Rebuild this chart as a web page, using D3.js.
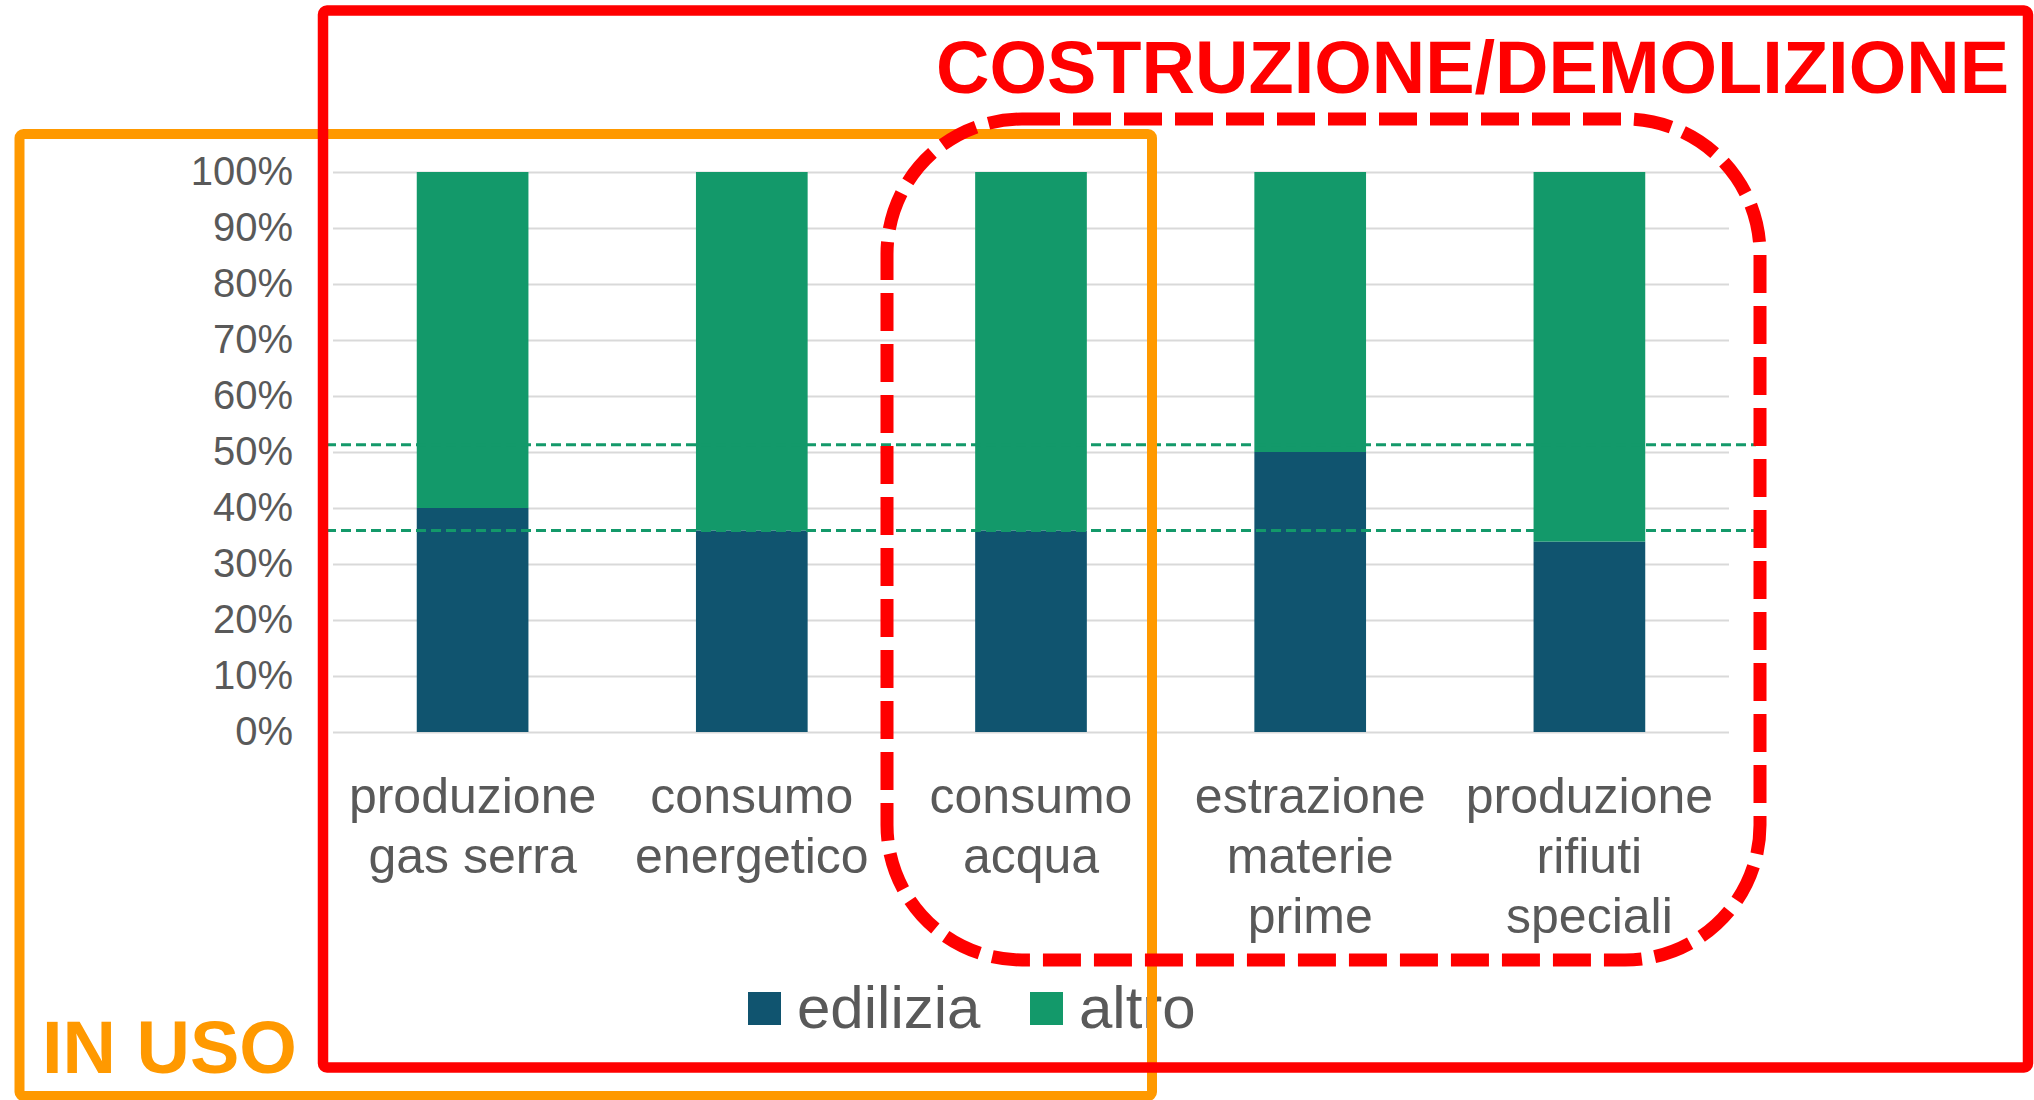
<!DOCTYPE html>
<html>
<head>
<meta charset="utf-8">
<script src="https://d3js.org/d3.v7.min.js"></script>
<style>
  * { margin: 0; padding: 0; }
  html, body { width: 2034px; height: 1100px; background: #fff; overflow: hidden; }
  svg { display: block; font-family: 'Liberation Sans', Arial, sans-serif; }
</style>
</head>
<body>
<svg id="chart" width="2034" height="1100"></svg>
<script>
// data (percent of total)
const categories = ['produzione\ngas serra', 'consumo\nenergetico', 'consumo\nacqua', 'estrazione\nmaterie\nprime', 'produzione\nrifiuti\nspeciali'];
const seriesNames = ['edilizia', 'altro'];
const edilizia = [40, 36, 36, 50, 34];
const altro = [60, 64, 64, 50, 66];
const refLines = [51.3, 36];
const yTicks = [0, 10, 20, 30, 40, 50, 60, 70, 80, 90, 100];

const colors = { edilizia: '#10546F', altro: '#13996A' };
const textGray = '#595959';

const svg = d3.select('#chart');

const x = d3.scaleBand().domain(categories).range([333, 1729]).paddingInner(0.6).paddingOuter(0.3);
const y = d3.scaleLinear().domain([0, 100]).range([732, 172]);

// gridlines + y labels
const yAxis = svg.append('g')
  .attr('transform', 'translate(333,0)')
  .call(d3.axisLeft(y).tickValues(yTicks).tickSize(-1396).tickFormat(d => d + '%').tickPadding(40));
yAxis.select('.domain').remove();
yAxis.selectAll('.tick line').attr('stroke', '#d9d9d9').attr('stroke-width', 2);
yAxis.selectAll('.tick text')
  .attr('fill', textGray)
  .attr('font-size', 40)
  .attr('font-family', "'Liberation Sans', Arial, sans-serif");

// stacked bars
const rows = categories.map((c, i) => ({ cat: c, edilizia: edilizia[i], altro: altro[i] }));
const stack = d3.stack().keys(seriesNames)(rows);

svg.append('g').selectAll('g')
  .data(stack)
  .join('g')
  .attr('fill', d => colors[d.key])
  .selectAll('rect')
  .data(d => d)
  .join('rect')
  .attr('x', d => x(d.data.cat))
  .attr('width', x.bandwidth())
  .attr('y', d => y(d[1]))
  .attr('height', d => y(d[0]) - y(d[1]));

// dashed reference lines
svg.append('g').selectAll('line')
  .data(refLines)
  .join('line')
  .attr('x1', 326)
  .attr('x2', 1756)
  .attr('y1', d => y(d))
  .attr('y2', d => y(d))
  .attr('stroke', colors.altro)
  .attr('stroke-width', 3)
  .attr('stroke-dasharray', '10,5');

// category labels
const labels = svg.append('g').selectAll('text')
  .data(categories)
  .join('text')
  .attr('x', d => x(d) + x.bandwidth() / 2)
  .attr('y', 813)
  .attr('text-anchor', 'middle')
  .attr('font-size', 50)
  .attr('fill', textGray);
labels.selectAll('tspan')
  .data(d => d.split('\n'))
  .join('tspan')
  .attr('x', function () { return this.parentNode.getAttribute('x'); })
  .attr('dy', (d, i) => i === 0 ? 0 : 60)
  .text(d => d);

// legend
const legendX = [748, 1030];
const legend = svg.append('g').selectAll('g')
  .data(seriesNames)
  .join('g')
  .attr('transform', (d, i) => `translate(${legendX[i]},992)`);
legend.append('rect').attr('width', 33).attr('height', 33).attr('fill', d => colors[d]);
legend.append('text')
  .attr('x', 49)
  .attr('y', 36)
  .attr('font-size', 60)
  .attr('fill', textGray)
  .text(d => d);

// annotation frames
svg.append('rect')
  .attr('x', 19.5).attr('y', 134).attr('width', 1132.5).attr('height', 962)
  .attr('rx', 4)
  .attr('fill', 'none').attr('stroke', '#FF9900').attr('stroke-width', 10);

svg.append('rect')
  .attr('x', 323).attr('y', 10.5).attr('width', 1705).attr('height', 1057)
  .attr('rx', 4)
  .attr('fill', 'none').attr('stroke', '#FF0000').attr('stroke-width', 10.5);

svg.append('rect')
  .attr('x', 887).attr('y', 119).attr('width', 873).attr('height', 841)
  .attr('rx', 135)
  .attr('fill', 'none').attr('stroke', '#FF0000').attr('stroke-width', 13)
  .attr('stroke-dasharray', '38,13');

svg.append('text')
  .attr('x', 2009).attr('y', 93)
  .attr('text-anchor', 'end')
  .attr('font-size', 74).attr('font-weight', 'bold')
  .attr('fill', '#FF0000')
  .text('COSTRUZIONE/DEMOLIZIONE');

svg.append('text')
  .attr('x', 42).attr('y', 1073)
  .attr('font-size', 74).attr('font-weight', 'bold')
  .attr('fill', '#FF9900')
  .text('IN USO');
</script>
</body>
</html>
